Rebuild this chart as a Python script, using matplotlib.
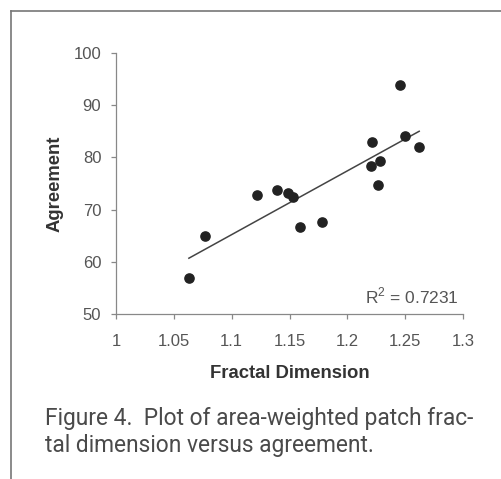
import numpy as np
import matplotlib.pyplot as plt
from matplotlib.lines import Line2D

# Дані
fractal_dim = [1.063, 1.077, 1.122, 1.139, 1.149, 1.153, 1.159, 1.178,
               1.220, 1.221, 1.226, 1.228, 1.245, 1.250, 1.262]
agreement = [56.9, 65.0, 72.8, 73.8, 73.2, 72.4, 66.7, 67.7,
             78.4, 82.9, 74.7, 79.3, 93.9, 84.1, 81.9]
x_ticks = [1, 1.05, 1.1, 1.15, 1.2, 1.25, 1.3]
x_labels = ['1', '1.05', '1.1', '1.15', '1.2', '1.25', '1.3']
y_ticks = [50, 60, 70, 80, 90, 100]
r2_label = 'R$^2$ = 0.7231'

plt.rcParams['font.family'] = ['Liberation Sans', 'DejaVu Sans']
plt.rcParams['mathtext.fontset'] = 'custom'
plt.rcParams['mathtext.rm'] = 'Liberation Sans'

fig = plt.figure(figsize=(5.01, 4.79), dpi=100)
ax = fig.add_axes([0.2315, 0.3445, 0.693, 0.545])

# Точки та лінія тренду
ax.scatter(fractal_dim, agreement, s=44, color='#222222', zorder=3)
k, b = np.polyfit(fractal_dim, agreement, 1)
xs = np.array([min(fractal_dim), max(fractal_dim)])
ax.plot(xs, k * xs + b, color='#444444', lw=1.1)

ax.set_xlim(1, 1.3)
ax.set_ylim(50, 100)
ax.set_xticks(x_ticks)
ax.set_xticklabels(x_labels)
ax.set_yticks(y_ticks)
ax.tick_params(colors='#888888', labelcolor='#555555', labelsize=12,
               length=3.6, width=0.9, direction='out')
ax.tick_params(axis='x', pad=11)
ax.tick_params(axis='y', pad=7)
for side in ['top', 'right']:
    ax.spines[side].set_visible(False)
for side in ['left', 'bottom']:
    ax.spines[side].set_color('#888888')
    ax.spines[side].set_linewidth(0.9)

ax.set_xlabel('Fractal Dimension', fontweight='bold', fontsize=13.3,
              color='#333333', labelpad=11)
ax.set_ylabel('Agreement', fontweight='bold', fontsize=13.3,
              color='#333333', labelpad=7)
ax.text(0.986, 0.042, r2_label, transform=ax.transAxes, ha='right',
        va='baseline', fontsize=12.5, color='#555555')

# Рамка сторінки
fig.add_artist(Line2D([0.022, 1.0], [0.976, 0.976], color='#777777', lw=1.2))
fig.add_artist(Line2D([0.022, 0.022], [0.976, 0.0], color='#777777', lw=1.2))

# Підпис рисунка
fig.text(0.09, 1 - 425 / 479, 'Figure 4.  Plot of area-weighted patch frac-',
         family='Roboto', fontsize=16.4, color='#4a4a4a', va='baseline')
fig.text(0.09, 1 - 452 / 479, 'tal dimension versus agreement.',
         family='Roboto', fontsize=16.4, color='#4a4a4a', va='baseline')

fig.savefig('out.png', dpi=100, facecolor='white')
